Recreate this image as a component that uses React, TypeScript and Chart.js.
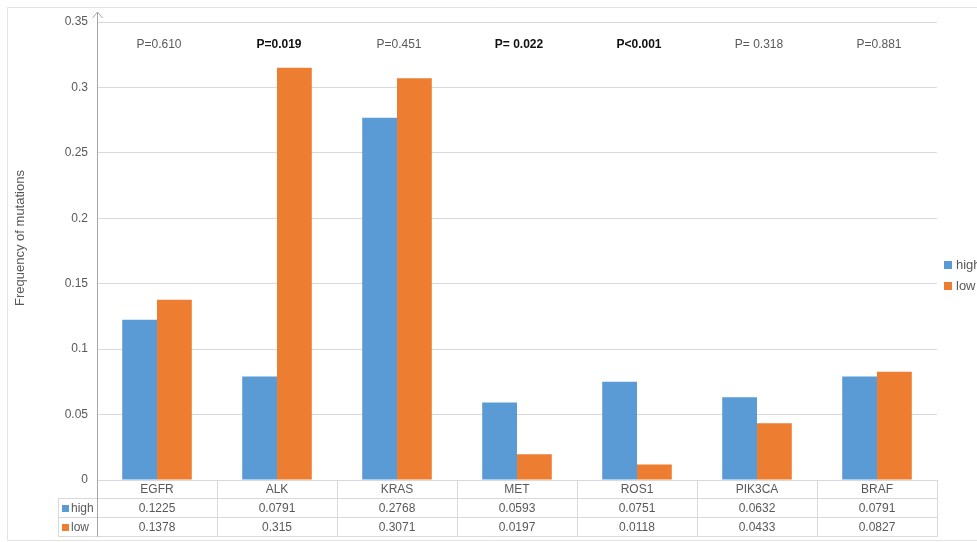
import React, { useEffect, useRef } from "react";
import { Chart, registerables } from "chart.js";

Chart.register(...registerables);

const categories = ["EGFR", "ALK", "KRAS", "MET", "ROS1", "PIK3CA", "BRAF"];
const highValues = [0.1225, 0.0791, 0.2768, 0.0593, 0.0751, 0.0632, 0.0791];
const lowValues = [0.1378, 0.315, 0.3071, 0.0197, 0.0118, 0.0433, 0.0827];
const highLabels = ["0.1225", "0.0791", "0.2768", "0.0593", "0.0751", "0.0632", "0.0791"];
const lowLabels = ["0.1378", "0.315", "0.3071", "0.0197", "0.0118", "0.0433", "0.0827"];
const pValues = ["P=0.610", "P=0.019", "P=0.451", "P= 0.022", "P<0.001", "P= 0.318", "P=0.881"];
const pBold = [false, true, false, true, true, false, false];
const seriesNames = ["high", "low"];

const BLUE = "#5b9bd5";
const ORANGE = "#ed7d31";
const TEXT = "#595959";
const GRID = "#d9d9d9";
const FONT = "'Liberation Sans', Arial, sans-serif";

const overlayPlugin = {
  id: "overlay",
  afterDraw(chart: any) {
    const ctx = chart.ctx;
    const area = chart.chartArea;
    const xs = chart.scales.x;
    const n = categories.length;
    const catW = (area.right - area.left) / n;
    ctx.save();

    // outer border
    ctx.strokeStyle = "#e3e3e3";
    ctx.lineWidth = 1;
    ctx.beginPath();
    ctx.moveTo(7.5, 540.5);
    ctx.lineTo(7.5, 7.5);
    ctx.lineTo(977, 7.5);
    ctx.moveTo(7.5, 540.5);
    ctx.lineTo(977, 540.5);
    ctx.stroke();

    // y axis with arrow
    const ax = Math.round(area.left) + 0.5;
    ctx.strokeStyle = "#a6a6a6";
    ctx.beginPath();
    ctx.moveTo(ax, area.bottom);
    ctx.lineTo(ax, 12);
    ctx.moveTo(ax - 5, 18);
    ctx.lineTo(ax, 12);
    ctx.lineTo(ax + 5, 18);
    ctx.stroke();

    // table
    const rowH = 19;
    const t0 = Math.round(area.bottom);
    const tableLeft = 58.5;
    const right = Math.round(area.right) + 0.5;
    ctx.strokeStyle = GRID;
    ctx.beginPath();
    ctx.moveTo(ax, t0 + 0.5);
    ctx.lineTo(right, t0 + 0.5);
    for (let r = 1; r <= 3; r++) {
      const y = t0 + r * rowH - 0.5;
      ctx.moveTo(tableLeft, y);
      ctx.lineTo(right, y);
    }
    ctx.moveTo(tableLeft, t0 + rowH - 0.5);
    ctx.lineTo(tableLeft, t0 + 3 * rowH - 0.5);
    for (let i = 1; i <= n; i++) {
      const x = Math.round(area.left + i * catW) + 0.5;
      ctx.moveTo(x, t0);
      ctx.lineTo(x, t0 + 3 * rowH - 0.5);
    }
    ctx.stroke();
    ctx.strokeStyle = "#a6a6a6";
    ctx.beginPath();
    ctx.moveTo(ax, t0);
    ctx.lineTo(ax, t0 + 3 * rowH - 0.5);
    ctx.stroke();

    ctx.fillStyle = TEXT;
    ctx.font = `12px ${FONT}`;
    ctx.textAlign = "center";
    ctx.textBaseline = "middle";
    for (let i = 0; i < n; i++) {
      const cx = xs.getPixelForValue(i);
      ctx.fillText(categories[i], cx, t0 + rowH / 2);
      ctx.fillText(highLabels[i], cx, t0 + rowH * 1.5);
      ctx.fillText(lowLabels[i], cx, t0 + rowH * 2.5);
    }
    // legend keys in table
    const keyColors = [BLUE, ORANGE];
    ctx.textAlign = "left";
    for (let r = 0; r < 2; r++) {
      const cy = t0 + rowH * (1.5 + r);
      ctx.fillStyle = keyColors[r];
      ctx.fillRect(62, cy - 3.5, 7, 7);
      ctx.fillStyle = TEXT;
      ctx.fillText(seriesNames[r], 71, cy + 0.5);
    }

    // right legend
    for (let r = 0; r < 2; r++) {
      const cy = 265 + r * 21;
      ctx.fillStyle = keyColors[r];
      ctx.fillRect(944, cy - 4, 8, 8);
      ctx.fillStyle = TEXT;
      ctx.font = `13px ${FONT}`;
      ctx.fillText(seriesNames[r], 956, cy + 0.5);
    }

    // p values
    ctx.textAlign = "center";
    for (let i = 0; i < n; i++) {
      const cx = xs.getPixelForValue(i);
      ctx.font = pBold[i] ? `bold 12px ${FONT}` : `12px ${FONT}`;
      ctx.fillStyle = pBold[i] ? "#111111" : TEXT;
      ctx.fillText(pValues[i], cx + 2, 45);
    }

    // y title
    ctx.translate(20, 238);
    ctx.rotate(-Math.PI / 2);
    ctx.fillStyle = TEXT;
    ctx.font = `13px ${FONT}`;
    ctx.fillText("Frequency of mutations", 0, 0);
    ctx.restore();
  },
};

export default function App() {
  const ref = useRef<HTMLCanvasElement>(null);
  useEffect(() => {
    document.body.style.margin = "0";
    const chart = new Chart(ref.current!, {
      type: "bar",
      data: {
        labels: categories,
        datasets: [
          { label: seriesNames[0], data: highValues, backgroundColor: BLUE },
          { label: seriesNames[1], data: lowValues, backgroundColor: ORANGE },
        ],
      },
      options: {
        animation: false,
        responsive: false,
        layout: { padding: { left: 0, right: 40, top: 22, bottom: 62 } },
        datasets: { bar: { categoryPercentage: 0.58, barPercentage: 1 } },
        plugins: { legend: { display: false }, tooltip: { enabled: false } },
        scales: {
          x: { display: false },
          y: {
            min: 0,
            max: 0.35,
            border: { display: false },
            grid: { color: GRID, drawTicks: false },
            ticks: {
              stepSize: 0.05,
              padding: 9,
              color: TEXT,
              font: { family: FONT, size: 12 },
              callback: (v: any) => String(Math.round(Number(v) * 100) / 100),
            },
            afterFit: (scale: any) => {
              scale.width = 97;
            },
          },
        },
      },
      plugins: [overlayPlugin],
    });
    return () => chart.destroy();
  }, []);
  return (
    <div style={{ position: "absolute", left: 0, top: 0, width: 977, height: 542, background: "#fff" }}>
      <canvas ref={ref} width={977} height={542} />
    </div>
  );
}
